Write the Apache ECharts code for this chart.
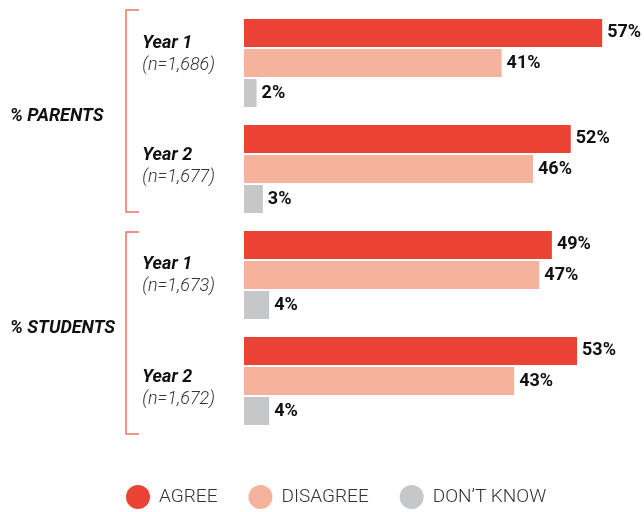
<!DOCTYPE html>
<html>
<head>
<meta charset="utf-8">
<script src="https://cdn.jsdelivr.net/npm/echarts@6/dist/echarts.min.js"></script>
<style>
  html, body { margin: 0; padding: 0; background: #fff; }
  #chart { width: 644px; height: 512px; }
</style>
</head>
<body>
<div id="chart"></div>
<script>
// ---- Data ----
const groups = ['% PARENTS', '% STUDENTS'];
const years = ['Year 1', 'Year 2', 'Year 1', 'Year 2'];
const sampleSizes = ['(n=1,686)', '(n=1,677)', '(n=1,673)', '(n=1,672)'];
const seriesNames = ['AGREE', 'DISAGREE', 'DON\u2019T KNOW'];
const agree = [57, 52, 49, 53];
const disagree = [41, 46, 47, 43];
const dontKnow = [2, 3, 4, 4];

// ---- Style ----
const colors = ['#EA4335', '#F5B39D', '#C6C7C9'];
const bracketColor = '#EE7264';
const FONT = 'Roboto, "Noto Sans", sans-serif';
const labelShift = [-9, -3, 0, 7]; // vertical nudge of each row label

const chart = echarts.init(document.getElementById('chart'), null, { renderer: 'canvas' });

const categories = years.map((y, i) => ({
  value: y + '\n' + sampleSizes[i],
  textStyle: { padding: labelShift[i] < 0 ? [0, 0, -2 * labelShift[i], 0] : [2 * labelShift[i], 0, 0, 0] }
}));

const values = [agree, disagree, dontKnow];

const option = {
  animation: false,
  backgroundColor: '#fff',
  color: colors,
  textStyle: { fontFamily: FONT },
  grid: { left: 244, right: 23, top: 10, bottom: 78 },
  xAxis: { type: 'value', min: 0, max: 60, show: false },
  yAxis: [
    {
      type: 'category',
      inverse: true,
      data: categories,
      axisLine: { show: false },
      axisTick: { show: false },
      axisLabel: {
        margin: 29,
        formatter: function (v) {
          const parts = v.split('\n');
          return '{y|' + parts[0] + '}\n{n|' + parts[1] + '}';
        },
        rich: {
          y: { fontFamily: FONT, fontSize: 18, fontWeight: 'bold', fontStyle: 'italic', color: '#111', lineHeight: 22, align: 'left' },
          n: { fontFamily: FONT, fontSize: 18, fontWeight: 300, fontStyle: 'italic', color: '#333', lineHeight: 22, align: 'left' }
        }
      }
    },
    {
      type: 'category',
      inverse: true,
      position: 'left',
      data: groups,
      axisLine: { show: false },
      axisTick: { show: false },
      axisLabel: {
        align: 'left',
        margin: 234,
        padding: [4, 0, 0, 0],
        fontFamily: FONT,
        fontSize: 18,
        fontWeight: 'bold',
        fontStyle: 'italic',
        color: '#111'
      }
    }
  ],
  legend: {
    left: 126,
    top: 485,
    padding: 0,
    icon: 'circle',
    itemWidth: 24,
    itemHeight: 24,
    itemGap: 31,
    data: seriesNames,
    textStyle: { fontFamily: FONT, fontSize: 19, fontWeight: 300, color: '#333', padding: [0, 0, 0, 4] }
  },
  series: seriesNames.map((name, k) => ({
    name: name,
    type: 'bar',
    yAxisIndex: 0,
    data: values[k],
    barWidth: 28,
    barGap: '7.2%',
    itemStyle: { color: colors[k] },
    label: {
      show: true,
      position: 'right',
      distance: 5,
      formatter: '{c}%',
      fontFamily: FONT,
      fontSize: 18,
      fontWeight: 'bold',
      color: '#111'
    }
  }))
};

chart.setOption(option);

// Brackets around each group, derived from the category bands
function drawBrackets() {
  const c0 = chart.convertToPixel({ yAxisIndex: 0 }, categories[0].value);
  const c1 = chart.convertToPixel({ yAxisIndex: 0 }, categories[1].value);
  const band = c1 - c0;
  const x = 126, tick = 13, gap = 10;
  const elems = [];
  for (let g = 0; g < groups.length; g++) {
    const first = chart.convertToPixel({ yAxisIndex: 0 }, categories[g * 2].value);
    const last = chart.convertToPixel({ yAxisIndex: 0 }, categories[g * 2 + 1].value);
    let top = first - band / 2;
    let bottom = last + band / 2;
    if (g > 0) top += gap;
    if (g < groups.length - 1) bottom -= gap;
    elems.push({
      type: 'polyline',
      shape: { points: [[x + tick, top], [x, top], [x, bottom], [x + tick, bottom]] },
      style: { stroke: bracketColor, lineWidth: 1.5, fill: null }
    });
  }
  chart.setOption({ graphic: elems });
}
drawBrackets();
</script>
</body>
</html>
